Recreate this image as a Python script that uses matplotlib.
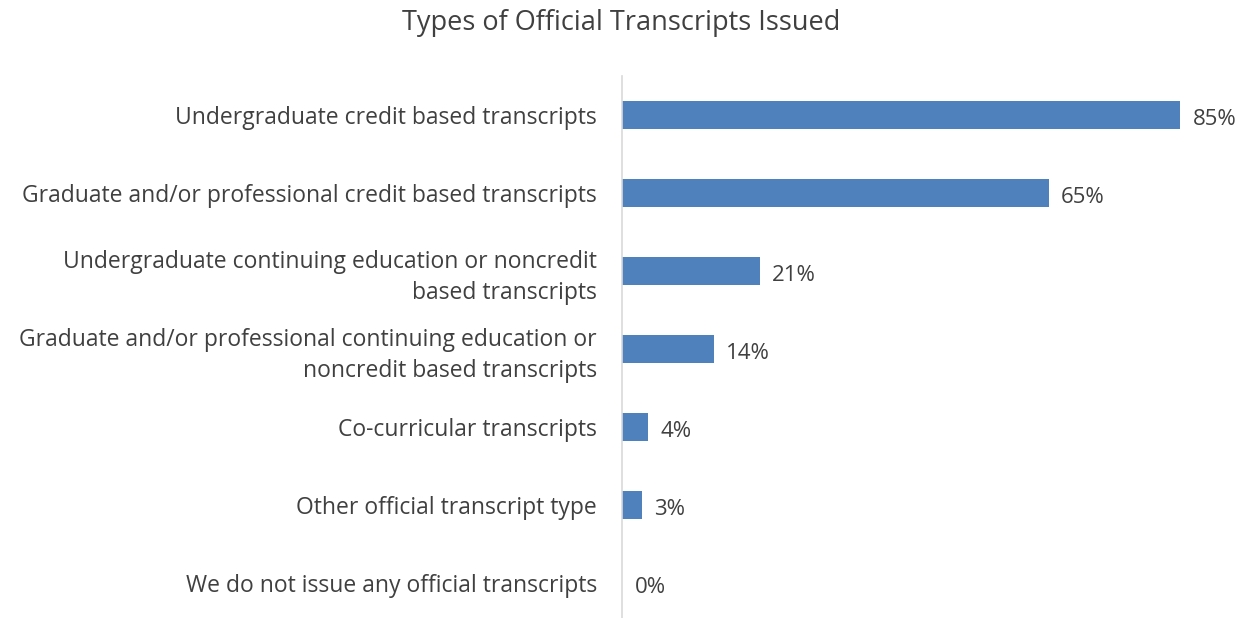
import matplotlib.pyplot as plt

plt.rcParams['font.family'] = ['Open Sans', 'DejaVu Sans']

# Data
categories = [
    "Undergraduate credit based transcripts",
    "Graduate and/or professional credit based transcripts",
    "Undergraduate continuing education or noncredit\nbased transcripts",
    "Graduate and/or professional continuing education or\nnoncredit based transcripts",
    "Co-curricular transcripts",
    "Other official transcript type",
    "We do not issue any official transcripts",
]
values = [85, 65, 21, 14, 4, 3, 0]

text_color = "#404040"
bar_color = "#4F81BD"

fig = plt.figure(figsize=(12.43, 6.18), dpi=100)
ax = fig.add_axes([0.5004, 0.0, 0.9493 - 0.5004, 0.877])

pos = list(range(len(categories)))
ax.barh(pos, values, height=0.36, color=bar_color)
ax.set_xlim(0, 85)
ax.set_ylim(6.45, -0.5)

for p, v in zip(pos, values):
    ax.annotate(f"{v}%", (v, p), xytext=(9, -3), textcoords="offset points",
                va="center", ha="left", fontsize=16, color=text_color,
                annotation_clip=False)

ax.set_yticks(pos)
ax.set_yticklabels(categories, fontsize=16.5, color=text_color, ha="right",
                   linespacing=1.4)
ax.tick_params(axis="y", length=0, pad=18)
ax.set_xticks([])

for s in ["top", "right", "bottom"]:
    ax.spines[s].set_visible(False)
ax.spines["left"].set_color("#D9D9D9")
ax.spines["left"].set_linewidth(1.2)

fig.text(0.5, 0.962, "Types of Official Transcripts Issued", ha="center",
         va="center", fontsize=19.5, color=text_color)

fig.savefig("out.png", dpi=100)
